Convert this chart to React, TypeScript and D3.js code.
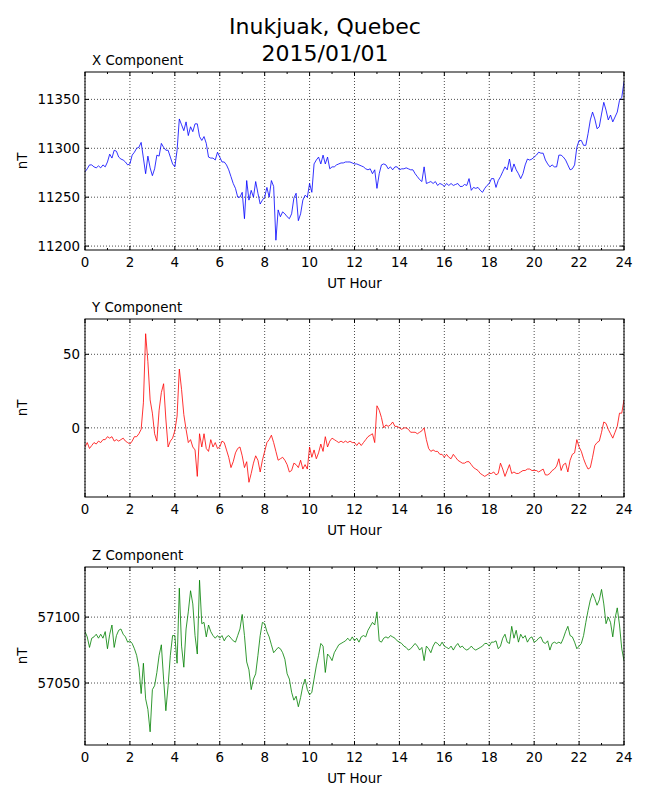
import * as d3 from 'd3'

// geomagnetic field components, sampled every 6 minutes (0.1 h)
const X_NT = [
  11276, 11279, 11283, 11283, 11281, 11280, 11282, 11280, 11283, 11281,
  11286, 11294, 11290, 11298, 11297, 11291, 11289, 11288, 11286, 11283,
  11284, 11293, 11296, 11300, 11301, 11306, 11290, 11274, 11292, 11280,
  11272, 11279, 11293, 11292, 11305, 11301, 11298, 11298, 11291, 11284,
  11281, 11298, 11330, 11324, 11318, 11327, 11313, 11322, 11317, 11325,
  11325, 11312, 11308, 11312, 11305, 11291, 11290, 11290, 11288, 11296,
  11291, 11286, 11286, 11283, 11278, 11271, 11264, 11259, 11250, 11250,
  11255, 11228, 11267, 11247, 11257, 11250, 11266, 11254, 11243, 11247,
  11250, 11260, 11250, 11267, 11261, 11206, 11237, 11230, 11235, 11233,
  11230, 11228, 11233, 11249, 11254, 11226, 11233, 11247, 11252, 11250,
  11264, 11255, 11284, 11288, 11291, 11284, 11293, 11284, 11291, 11279,
  11281, 11281, 11283, 11284, 11285, 11285, 11286, 11286, 11286, 11285,
  11284, 11284, 11283, 11282, 11281, 11279, 11278, 11279, 11274, 11278,
  11259, 11274, 11283, 11284, 11283, 11279, 11281, 11278, 11281, 11281,
  11278, 11279, 11279, 11280, 11279, 11278, 11278, 11274, 11271, 11268,
  11266, 11281, 11264, 11265, 11266, 11264, 11266, 11262, 11264, 11263,
  11261, 11264, 11262, 11264, 11262, 11263, 11264, 11261, 11261, 11263,
  11262, 11269, 11257, 11260, 11259, 11260, 11257, 11255, 11259, 11262,
  11264, 11269, 11269, 11260, 11267, 11271, 11276, 11281, 11278, 11289,
  11276, 11284, 11278, 11274, 11269, 11274, 11283, 11289, 11288, 11289,
  11291, 11293, 11296, 11295, 11295, 11288, 11284, 11281, 11283, 11281,
  11281, 11293, 11293, 11291, 11288, 11283, 11278, 11279, 11283, 11301,
  11308, 11308, 11303, 11303, 11315, 11329, 11337, 11330, 11320, 11322,
  11335, 11347, 11339, 11329, 11334, 11327, 11332, 11337, 11349, 11352,
  11368,
]

const Y_NT = [
  -13, -10, -14, -12, -10, -11, -9, -10, -8, -8,
  -6, -7, -6, -9, -8, -9, -8, -7, -9, -10,
  -11, -9, -6, -6, -4, -1, 17, 64, 45, 19,
  10, -4, -9, 12, 24, 30, 6, -13, -9, -7,
  -2, 8, 40, 26, 9, -1, -10, -8, -13, -15,
  -33, -4, -13, -4, -14, -16, -8, -13, -10, -14,
  -13, -9, -10, -15, -20, -27, -23, -17, -14, -13,
  -19, -27, -23, -37, -31, -24, -19, -22, -30, -22,
  -16, -10, -8, -5, -10, -16, -22, -21, -20, -22,
  -25, -30, -29, -24, -25, -27, -22, -28, -25, -28,
  -13, -20, -15, -21, -17, -11, -16, -6, -13, -9,
  -7, -8, -9, -10, -9, -10, -9, -10, -9, -10,
  -10, -12, -10, -12, -10, -8, -6, -5, -4, -10,
  15, 12, 7, 0, 2, 1, 2, 4, 1, 1,
  0, -1, 0, 0, -1, -3, -3, -3, -4, -3,
  -2, 0, -8, -14, -16, -15, -16, -16, -18, -18,
  -20, -18, -20, -21, -18, -20, -22, -23, -24, -24,
  -23, -23, -25, -27, -28, -29, -31, -32, -33, -32,
  -31, -31, -30, -32, -31, -24, -28, -33, -29, -25,
  -31, -30, -31, -31, -30, -29, -29, -28, -28, -29,
  -29, -29, -30, -29, -28, -32, -32, -31, -29, -28,
  -26, -21, -29, -25, -24, -30, -22, -18, -17, -8,
  -13, -16, -21, -25, -28, -27, -20, -12, -10, -9,
  -3, 4, 3, -1, -4, -7, -3, 1, 10, 10,
  19,
]

const Z_NT = [
  57089, 57085, 57077, 57084, 57085, 57087, 57084, 57087, 57084, 57089,
  57076, 57087, 57094, 57077, 57086, 57090, 57091, 57087, 57085, 57081,
  57082, 57080, 57076, 57071, 57062, 57042, 57065, 57038, 57030, 57013,
  57045, 57048, 57058, 57071, 57079, 57053, 57029, 57048, 57071, 57086,
  57086, 57065, 57122, 57078, 57062, 57091, 57104, 57120, 57110, 57086,
  57072, 57128, 57095, 57096, 57085, 57094, 57089, 57086, 57084, 57086,
  57084, 57086, 57082, 57085, 57086, 57084, 57082, 57081, 57086, 57091,
  57102, 57086, 57066, 57060, 57045, 57053, 57057, 57071, 57086, 57096,
  57095, 57089, 57085, 57079, 57073, 57075, 57077, 57076, 57073, 57068,
  57057, 57053, 57043, 57037, 57040, 57032, 57039, 57048, 57053, 57045,
  57041, 57043, 57053, 57063, 57071, 57080, 57078, 57058, 57072, 57070,
  57067, 57073, 57076, 57079, 57080, 57081, 57082, 57084, 57082, 57085,
  57082, 57084, 57081, 57085, 57086, 57085, 57090, 57093, 57096, 57094,
  57104, 57082, 57081, 57084, 57085, 57084, 57086, 57085, 57084, 57082,
  57081, 57080, 57078, 57077, 57075, 57076, 57078, 57080, 57078, 57075,
  57077, 57067, 57078, 57076, 57073, 57078, 57081, 57080, 57078, 57081,
  57078, 57077, 57076, 57078, 57075, 57078, 57080, 57077, 57078, 57076,
  57075, 57076, 57078, 57076, 57075, 57076, 57077, 57078, 57080, 57080,
  57078, 57081, 57081, 57082, 57076, 57078, 57084, 57087, 57081, 57080,
  57093, 57084, 57090, 57081, 57087, 57084, 57086, 57081, 57084, 57085,
  57081, 57082, 57084, 57085, 57081, 57080, 57082, 57075, 57080, 57081,
  57080, 57081, 57080, 57084, 57089, 57093, 57086, 57085, 57081, 57076,
  57078, 57080, 57086, 57096, 57105, 57113, 57118, 57114, 57109, 57113,
  57121, 57110, 57095, 57100, 57096, 57085, 57099, 57107, 57094, 57076,
  57067,
]

const HOURS = d3.range(X_NT.length).map(i => i / 10)
const HOUR_TICKS = [0, 2, 4, 6, 8, 10, 12, 14, 16, 18, 20, 22, 24]
const HOUR_MINOR = [1, 3, 5, 7, 9, 11, 13, 15, 17, 19, 21, 23]
const X_TICKS = [11200, 11250, 11300, 11350]
const Y_TICKS = [0, 50]
const Z_TICKS = [57050, 57100]

const TITLE = ['Inukjuak, Quebec', '2015/01/01']
const FONT = '"DejaVu Sans", sans-serif'
const FS = 13.4

const WIDTH = 650
const HEIGHT = 800
const LEFT = 85
const RIGHT = 624
const PANEL_H = 178

interface PanelProps {
  top: number
  title: string
  values: number[]
  ticks: number[]
  color: string
}

function Panel({ top, title, values, ticks, color }: PanelProps) {
  const bottom = top + PANEL_H
  const [lo, hi] = d3.extent(values) as [number, number]
  const x = d3.scaleLinear().domain([0, 24]).range([LEFT, RIGHT])
  const y = d3.scaleLinear().domain([lo - 10, hi + 10]).range([bottom, top])
  const line = d3.line<number>()
    .x((_, i) => x(HOURS[i]))
    .y(d => y(d))

  return (
    <g>
      {/* grid */}
      {HOUR_TICKS.map(t => (
        <line key={`gx${t}`} x1={x(t)} x2={x(t)} y1={top} y2={bottom}
          stroke="#000" strokeWidth={0.7} strokeDasharray="1 2" />
      ))}
      {ticks.map(t => (
        <line key={`gy${t}`} x1={LEFT} x2={RIGHT} y1={y(t)} y2={y(t)}
          stroke="#000" strokeWidth={0.7} strokeDasharray="1 2" />
      ))}

      <clipPath id={`clip-${title[0]}`}>
        <rect x={LEFT} y={top} width={RIGHT - LEFT} height={PANEL_H} />
      </clipPath>
      <path d={line(values) ?? ''} fill="none" stroke={color} strokeWidth={0.8}
        clipPath={`url(#clip-${title[0]})`} />

      {/* tick marks, inside like matplotlib classic */}
      {HOUR_TICKS.map(t => (
        <g key={`tx${t}`}>
          <line x1={x(t)} x2={x(t)} y1={bottom} y2={bottom - 4} stroke="#000" />
          <line x1={x(t)} x2={x(t)} y1={top} y2={top + 4} stroke="#000" />
        </g>
      ))}
      {HOUR_MINOR.map(t => (
        <g key={`mx${t}`}>
          <line x1={x(t)} x2={x(t)} y1={bottom} y2={bottom - 2} stroke="#000" />
          <line x1={x(t)} x2={x(t)} y1={top} y2={top + 2} stroke="#000" />
        </g>
      ))}
      {ticks.map(t => (
        <g key={`ty${t}`}>
          <line x1={LEFT} x2={LEFT + 4} y1={y(t)} y2={y(t)} stroke="#000" />
          <line x1={RIGHT} x2={RIGHT - 4} y1={y(t)} y2={y(t)} stroke="#000" />
        </g>
      ))}

      <rect x={LEFT} y={top} width={RIGHT - LEFT} height={PANEL_H}
        fill="none" stroke="#000" strokeWidth={1} />

      {/* tick labels */}
      {HOUR_TICKS.map(t => (
        <text key={`lx${t}`} x={x(t)} y={bottom + 17} textAnchor="middle"
          fontSize={FS} fontFamily={FONT}>{t}</text>
      ))}
      {ticks.map(t => (
        <text key={`ly${t}`} x={LEFT - 5} y={y(t)} dy="0.36em" textAnchor="end"
          fontSize={FS} fontFamily={FONT}>{t}</text>
      ))}

      <text x={92} y={top - 7} fontSize={FS} fontFamily={FONT}>{title}</text>
      <text x={(LEFT + RIGHT) / 2} y={bottom + 38} textAnchor="middle"
        fontSize={FS} fontFamily={FONT}>UT Hour</text>
      <text transform={`translate(27,${(top + bottom) / 2}) rotate(-90)`}
        textAnchor="middle" fontSize={FS} fontFamily={FONT}>nT</text>
    </g>
  )
}

export default function App() {
  return (
    <svg width={WIDTH} height={HEIGHT}
      style={{ position: 'absolute', left: 0, top: 0, background: '#fff' }}>
      <rect width={WIDTH} height={HEIGHT} fill="#fff" />
      <text x={WIDTH / 2} y={34} textAnchor="middle" fontSize={22} fontFamily={FONT}>{TITLE[0]}</text>
      <text x={WIDTH / 2} y={61} textAnchor="middle" fontSize={22} fontFamily={FONT}>{TITLE[1]}</text>
      <Panel top={72} title="X Component" values={X_NT} ticks={X_TICKS} color="#0000ff" />
      <Panel top={319} title="Y Component" values={Y_NT} ticks={Y_TICKS} color="#ff0000" />
      <Panel top={567} title="Z Component" values={Z_NT} ticks={Z_TICKS} color="#008000" />
    </svg>
  )
}
